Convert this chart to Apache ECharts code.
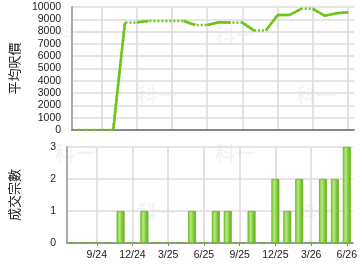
<!DOCTYPE html>
<html><head><meta charset="utf-8">
<script src="https://cdn.jsdelivr.net/npm/echarts@6/dist/echarts.min.js"></script>
<style>html,body{margin:0;padding:0;background:#fff}#c{width:360px;height:270px}</style>
</head><body><div id="c"></div>
<script>
var months = ['7/24','8/24','9/24','10/24','11/24','12/24','1/25','2/25','3/25','4/25','5/25','6/25','7/25','8/25','9/25','10/25','11/25','12/25','1/26','2/26','3/26','4/26','5/26','6/26'];
var avgPrice = [0,0,0,0,8750,8750,8860,8860,8860,8860,8540,8540,8760,8730,8730,8080,8080,9350,9350,9850,9850,9290,9490,9570];
var deals = [0,0,0,0,1,0,1,0,0,0,1,0,1,1,0,1,0,2,1,2,0,2,2,3];
var priceTicks = [0,1000,2000,3000,4000,5000,6000,7000,8000,9000,10000];
var dealTicks = [0,1,2,3];

var green = '#6cc616';
var labelFont = {fontFamily:'Liberation Sans, Arial, sans-serif', fontSize:10.5, color:'#222'};

var series = [];
series.push({type:'line', xAxisIndex:0, yAxisIndex:0, data:avgPrice, symbol:'none',
  lineStyle:{color:green, width:2.5, type:[2,2], cap:'butt'}, z:3, animation:false});
var i = 0;
while (i < months.length) {
  if (deals[i] > 0 && i > 0) {
    var s = i; while (i + 1 < months.length && deals[i+1] > 0) i++;
    var d = avgPrice.map(function(v, k){ return (k >= s - 1 && k <= i) ? v : null; });
    series.push({type:'line', xAxisIndex:0, yAxisIndex:0, data:d, symbol:'none', connectNulls:false,
      lineStyle:{color:green, width:2.5}, z:4, animation:false});
  }
  i++;
}
series.push({type:'bar', xAxisIndex:1, yAxisIndex:1, data:deals, barWidth:8, animation:false,
  itemStyle:{borderColor:'#66b81c', borderWidth:0.8,
    color:{type:'linear', x:0, y:0, x2:1, y2:0, colorStops:[
      {offset:0, color:'#74c22a'},{offset:0.35, color:'#b4e884'},{offset:0.6, color:'#8fd24c'},{offset:1, color:'#5aa810'}]}}});

var wm = [[55,22],[215,25],[137,85],[296,85],[55,143],[215,143],[137,202],[296,202]].map(function(p){
  return {type:'text', left:p[0], top:p[1], z:0, silent:true,
    style:{text:'科一', fontSize:20, fontWeight:'bold', fill:'rgba(0,0,0,0.045)', fontFamily:'Noto Sans CJK TC'}};
});

var showIdx = function(idx){ return idx % 3 === 2; };
var chart = echarts.init(document.getElementById('c'), null, {renderer:'canvas'});
chart.setOption({
  backgroundColor:'#fff',
  animation:false,
  graphic: wm,
  grid:[{left:66, right:6, top:7, height:123, containLabel:false},
        {left:66, right:6, top:147, height:96, containLabel:false}],
  xAxis:[
    {type:'category', gridIndex:0, data:months, boundaryGap:true,
     axisLine:{lineStyle:{color:'#888', width:2}}, axisTick:{show:false, alignWithLabel:true, interval:showIdx}, axisLabel:{show:false, interval:showIdx},
     splitLine:{show:true, alignWithLabel:true, interval:showIdx, lineStyle:{color:'#d8d8d8', width:1.5}}},
    {type:'category', gridIndex:1, data:months, boundaryGap:true,
     axisLine:{lineStyle:{color:'#999', width:2}},
     axisTick:{show:true, alignWithLabel:true, interval:showIdx, length:3, lineStyle:{color:'#888'}},
     axisLabel:Object.assign({interval:showIdx, margin:7}, labelFont),
     splitLine:{show:true, alignWithLabel:true, interval:showIdx, lineStyle:{color:'#d8d8d8', width:1.5}}}
  ],
  yAxis:[
    {type:'value', gridIndex:0, min:priceTicks[0], max:priceTicks[priceTicks.length-1], interval:1000,
     name:'平均呎價', nameLocation:'middle', nameGap:46, nameRotate:90,
     nameTextStyle:{fontFamily:'Noto Sans CJK TC', fontSize:13, color:'#222'},
     axisLine:{show:true, lineStyle:{color:'#aaa', width:2}}, axisTick:{show:false},
     axisLabel:Object.assign({margin:11, formatter:function(v){return String(v);}}, labelFont),
     splitLine:{lineStyle:{color:'#dcdcdc', width:1.5}}},
    {type:'value', gridIndex:1, min:dealTicks[0], max:dealTicks[dealTicks.length-1], interval:1,
     name:'成交宗數', nameLocation:'middle', nameGap:46, nameRotate:90,
     nameTextStyle:{fontFamily:'Noto Sans CJK TC', fontSize:13, color:'#222'},
     axisLine:{show:true, lineStyle:{color:'#aaa', width:2}}, axisTick:{show:false},
     axisLabel:Object.assign({margin:11, formatter:function(v){return String(v);}}, labelFont),
     splitLine:{lineStyle:{color:'#dcdcdc', width:1.5}}}
  ],
  series: series
});
</script></body></html>
